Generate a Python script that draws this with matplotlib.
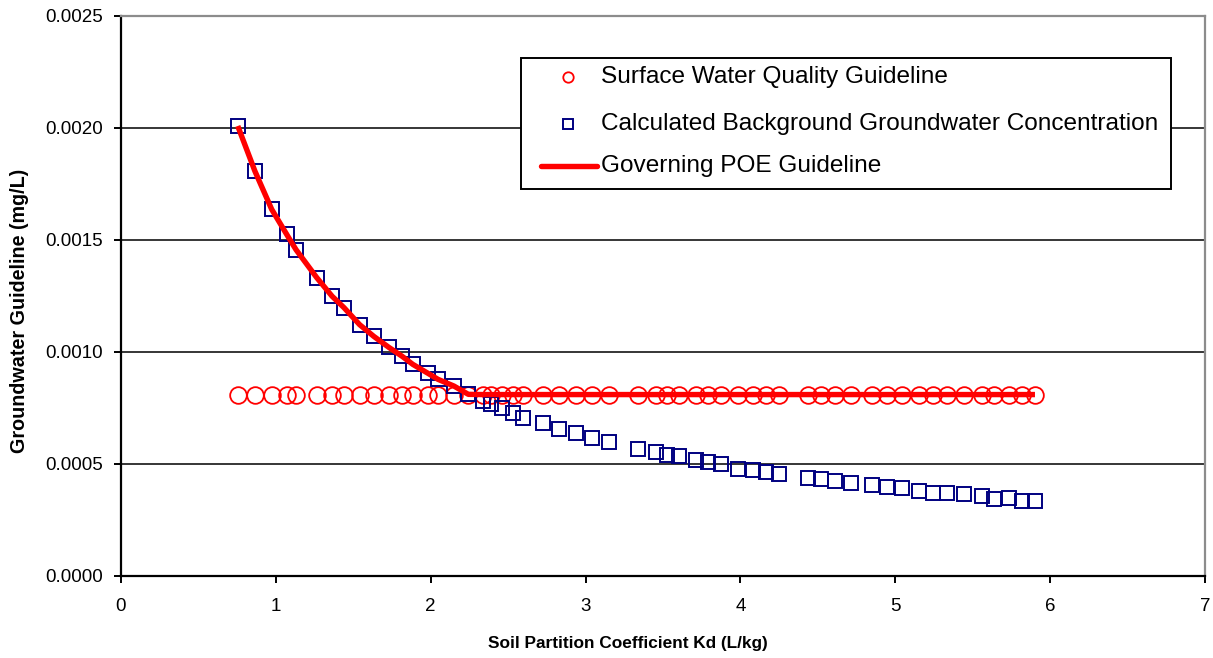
import matplotlib
matplotlib.use("Agg")
import matplotlib.pyplot as plt
from matplotlib.lines import Line2D
from matplotlib.patches import Rectangle
import numpy as np

plt.rcParams['font.family'] = ['Liberation Sans', 'DejaVu Sans']

kd = [0.754, 0.865, 0.973, 1.070, 1.130, 1.264, 1.363, 1.440, 1.541, 1.632,
      1.729, 1.815, 1.884, 1.982, 2.047, 2.150, 2.243, 2.336, 2.387, 2.458,
      2.531, 2.596, 2.727, 2.830, 2.937, 3.041, 3.151, 3.337, 3.452, 3.524,
      3.605, 3.713, 3.792, 3.876, 3.982, 4.079, 4.163, 4.251, 4.434, 4.522,
      4.613, 4.714, 4.852, 4.948, 5.043, 5.155, 5.242, 5.334, 5.444, 5.562,
      5.639, 5.734, 5.816, 5.902]

background = [0.002009, 0.001807, 0.001637, 0.001525, 0.001457, 0.001332, 0.001249,
              0.001198, 0.001122, 0.001070, 0.001021, 0.000981, 0.000945, 0.000905,
              0.000878, 0.000848, 0.000811, 0.000781, 0.000768, 0.000749, 0.000726,
              0.000707, 0.000684, 0.000657, 0.000638, 0.000617, 0.000600, 0.000566,
              0.000554, 0.000542, 0.000534, 0.000517, 0.000509, 0.000499, 0.000479,
              0.000475, 0.000466, 0.000457, 0.000438, 0.000432, 0.000424, 0.000414,
              0.000408, 0.000399, 0.000392, 0.000381, 0.000372, 0.000372, 0.000365,
              0.000357, 0.000345, 0.000347, 0.000336, 0.000336]

surface_guideline = [0.00081] * len(kd)

# governing guideline = the larger of the two at each Kd
governing = list(np.maximum(np.array(background), np.array(surface_guideline)))

series_labels = ['Surface Water Quality Guideline',
                 'Calculated Background Groundwater Concentration',
                 'Governing POE Guideline']

x_ticks = [0, 1, 2, 3, 4, 5, 6, 7]
y_ticks = [0.0, 0.0005, 0.0010, 0.0015, 0.0020, 0.0025]
y_tick_labels = ["0.0000", "0.0005", "0.0010", "0.0015", "0.0020", "0.0025"]

RED = '#FF0000'
NAVY = '#000080'

fig = plt.figure(figsize=(12.13, 6.58), dpi=100)
ax = fig.add_axes([121/1213, 1 - 576/658, 1084/1213, 560/658])

for yv in y_ticks[1:-1]:
    ax.axhline(yv, color='black', lw=1.1, zorder=1)

ax.plot(kd, surface_guideline, linestyle='none', marker='o', markersize=12,
        markerfacecolor='none', markeredgecolor=RED, markeredgewidth=1.3, zorder=3)
ax.plot(kd, background, linestyle='none', marker='s', markersize=10,
        markerfacecolor='none', markeredgecolor=NAVY, markeredgewidth=1.4, zorder=4)
ax.plot(kd, governing, color=RED, lw=3.9, solid_capstyle='butt', zorder=5)

ax.set_xlim(0, 7)
ax.set_ylim(0, 0.0025)
ax.set_xticks(x_ticks)
ax.set_yticks(y_ticks)
ax.set_yticklabels(y_tick_labels)
ax.tick_params(axis='both', direction='out', length=5, width=1.4, labelsize=13.5,
               colors='black')
ax.tick_params(axis='x', pad=11)
ax.tick_params(axis='y', pad=8)

for s in ['left', 'bottom']:
    ax.spines[s].set_color('black')
    ax.spines[s].set_linewidth(1.6)
for s in ['top', 'right']:
    ax.spines[s].set_color('#8c8c8c')
    ax.spines[s].set_linewidth(1.6)

ax.set_xlabel('Soil Partition Coefficient Kd (L/kg)', fontsize=12.4, fontweight='bold')
ax.xaxis.set_label_coords(0.468, -0.107)
ax.set_ylabel('Groundwater Guideline (mg/L)', fontsize=14.2, fontweight='bold')
ax.yaxis.set_label_coords(-0.085, 0.473)

# legend drawn in axes coordinates
tr = ax.transAxes
ax.add_patch(Rectangle((0.369, 0.691), 0.5996, 0.234, transform=tr,
                       facecolor='white', edgecolor='black', lw=1.4, zorder=10))
rows_y = [0.8910, 0.8071, 0.7321]
ax.add_line(Line2D([0.4124], [rows_y[0]], transform=tr, linestyle='none', marker='o',
                   markersize=7.5, markerfacecolor='none', markeredgecolor=RED,
                   markeredgewidth=1.3, zorder=11))
ax.add_line(Line2D([0.4124], [rows_y[1]], transform=tr, linestyle='none', marker='s',
                   markersize=7, markerfacecolor='none', markeredgecolor=NAVY,
                   markeredgewidth=1.4, zorder=11))
ax.add_line(Line2D([0.3875, 0.4391], [rows_y[2], rows_y[2]], transform=tr, color=RED,
                   lw=3.9, solid_capstyle='round', zorder=11))
for yy, lab in zip(rows_y, series_labels):
    ax.text(0.4428, yy, lab, transform=tr, fontsize=17.6, va='center', ha='left',
            zorder=12)

fig.savefig('out.png', dpi=100)
